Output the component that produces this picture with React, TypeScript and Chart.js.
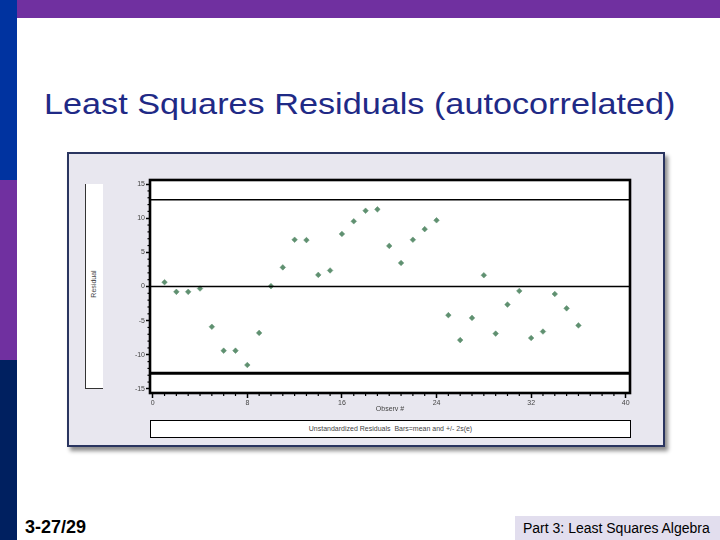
import React, { useEffect, useRef } from "react";
import { Chart, registerables } from "chart.js";

Chart.register(...registerables);

const observations = [
  1, 2, 3, 4, 5, 6, 7, 8, 9, 10, 11, 12, 13, 14, 15, 16, 17, 18,
  19, 20, 21, 22, 23, 24, 25, 26, 27, 28, 29, 30, 31, 32, 33, 34, 35, 36,
];
const residuals = [
  0.63, -0.78, -0.78, -0.3, -5.9, -9.4, -9.4, -11.5, -6.8, 0.05, 2.8, 6.85,
  6.8, 1.7, 2.35, 7.7, 9.55, 11.1, 11.3, 5.95, 3.45, 6.85, 8.4, 9.7,
  -4.2, -7.85, -4.6, 1.65, -6.9, -2.65, -0.65, -7.55, -6.6, -1.1, -3.2, -5.7,
];
const meanValue = 0;
const twoSE = 12.7;
const xTickValues = [0, 8, 16, 24, 32, 40];
const yTickValues = [-15, -10, -5, 0, 5, 10, 15];
const xMin = -0.23;
const xMax = 40.36;
const yMin = -15.6;
const yMax = 15.6;

const framePlugin = {
  id: "frame",
  beforeDraw(chart: any) {
    const { ctx, chartArea: a } = chart;
    ctx.save();
    ctx.fillStyle = "#ffffff";
    ctx.fillRect(a.left, a.top, a.right - a.left, a.bottom - a.top);
    ctx.restore();
  },
  afterDraw(chart: any) {
    const { ctx, chartArea: a, scales } = chart;
    ctx.save();
    ctx.strokeStyle = "#000";
    ctx.lineWidth = 1.2;
    for (let v = 0; v <= 40; v++) {
      if (v % 8 === 0) continue;
      const px = scales.x.getPixelForValue(v);
      ctx.beginPath();
      ctx.moveTo(px, a.bottom);
      ctx.lineTo(px, a.bottom + 3);
      ctx.stroke();
    }
    for (let v = -15; v <= 15; v++) {
      if (v % 5 === 0) continue;
      const py = scales.y.getPixelForValue(v);
      ctx.beginPath();
      ctx.moveTo(a.left - 2.5, py);
      ctx.lineTo(a.left, py);
      ctx.stroke();
    }
    ctx.lineWidth = 2.6;
    ctx.strokeRect(a.left, a.top, a.right - a.left, a.bottom - a.top);
    ctx.restore();
  },
};

function ResidualChart() {
  const ref = useRef<HTMLCanvasElement | null>(null);
  useEffect(() => {
    if (!ref.current) return;
    const tickFont = { size: 7, family: "'Liberation Sans', Arial, sans-serif" };
    const chart = new Chart(ref.current, {
      type: "scatter",
      data: {
        datasets: [
          {
            type: "line",
            data: [
              { x: xMin, y: meanValue + twoSE },
              { x: xMax, y: meanValue + twoSE },
            ],
            borderColor: "#000",
            borderWidth: 1.5,
            pointRadius: 0,
          },
          {
            type: "line",
            data: [
              { x: xMin, y: meanValue },
              { x: xMax, y: meanValue },
            ],
            borderColor: "#000",
            borderWidth: 1.5,
            pointRadius: 0,
          },
          {
            type: "line",
            data: [
              { x: xMin, y: meanValue - twoSE },
              { x: xMax, y: meanValue - twoSE },
            ],
            borderColor: "#000",
            borderWidth: 3,
            pointRadius: 0,
          },
          {
            data: observations.map((o, i) => ({ x: o, y: residuals[i] })),
            pointStyle: "rectRot",
            pointRadius: 2.8,
            backgroundColor: "#5f9070",
            borderColor: "#5f9070",
            borderWidth: 0.5,
          },
        ],
      } as any,
      options: {
        animation: false,
        responsive: false,
        maintainAspectRatio: false,
        layout: { padding: { top: 10, right: 10, left: 0, bottom: 0 } },
        plugins: { legend: { display: false }, tooltip: { enabled: false } },
        scales: {
          x: {
            type: "linear",
            min: xMin,
            max: xMax,
            afterBuildTicks: (s: any) => {
              s.ticks = xTickValues.map((v) => ({ value: v }));
            },
            afterFit: (s: any) => {
              s.height = 22;
            },
            grid: {
              drawOnChartArea: false,
              drawTicks: true,
              tickLength: 5,
              tickColor: "#000",
              tickWidth: 1.5,
            },
            border: { display: false },
            ticks: {
              font: tickFont,
              color: "#444",
              padding: 1,
              maxRotation: 0,
              autoSkip: false,
            },
            title: {
              display: true,
              text: "Observ #",
              font: tickFont,
              color: "#444",
              padding: { top: 0, bottom: 2 },
            },
          },
          y: {
            type: "linear",
            min: yMin,
            max: yMax,
            afterBuildTicks: (s: any) => {
              s.ticks = yTickValues.map((v) => ({ value: v }));
            },
            afterFit: (s: any) => {
              s.width = 40;
            },
            grid: {
              drawOnChartArea: false,
              drawTicks: true,
              tickLength: 4,
              tickColor: "#000",
              tickWidth: 1.5,
            },
            border: { display: false },
            ticks: {
              font: tickFont,
              color: "#444",
              padding: 1,
              autoSkip: false,
            },
          },
        },
      },
      plugins: [framePlugin],
    } as any);
    return () => chart.destroy();
  }, []);
  return (
    <canvas
      ref={ref}
      width={530}
      height={245}
      style={{ position: "absolute", left: 110, top: 170, width: 530, height: 245 }}
    />
  );
}

export default function App() {
  useEffect(() => {
    document.body.style.margin = "0";
  }, []);
  const sans = "'Liberation Sans', Arial, sans-serif";
  return (
    <div
      style={{
        position: "absolute",
        left: 0,
        top: 0,
        width: 720,
        height: 540,
        overflow: "hidden",
        background: "#ffffff",
        fontFamily: sans,
      }}
    >
      <div style={{ position: "absolute", left: 0, top: 0, width: 720, height: 18, background: "#7030A0" }} />
      <div style={{ position: "absolute", left: 0, top: 0, width: 17, height: 180, background: "#0033A0" }} />
      <div style={{ position: "absolute", left: 0, top: 180, width: 17, height: 180, background: "#7030A0" }} />
      <div style={{ position: "absolute", left: 0, top: 360, width: 17, height: 180, background: "#002060" }} />

      <div
        style={{
          position: "absolute",
          left: 44,
          top: 88,
          height: 32,
          lineHeight: "32px",
          fontSize: 29,
          color: "#1F2A86",
          whiteSpace: "nowrap",
          transform: "scaleX(1.18)",
          transformOrigin: "left center",
        }}
      >
        Least Squares Residuals (autocorrelated)
      </div>

      <div
        style={{
          position: "absolute",
          left: 67,
          top: 152,
          width: 594,
          height: 291,
          background: "#E8E7EF",
          border: "2px solid #2A3560",
          boxShadow: "3px 4px 4px rgba(0,0,0,0.45)",
        }}
      />
      <div
        style={{
          position: "absolute",
          left: 85,
          top: 184,
          width: 17,
          height: 204,
          background: "#fff",
          borderLeft: "1px solid #333",
          borderBottom: "1px solid #333",
        }}
      />
      <div
        style={{
          position: "absolute",
          left: 93,
          top: 284,
          transform: "translate(-50%, -50%) rotate(-90deg)",
          fontSize: 7,
          color: "#444",
          whiteSpace: "nowrap",
        }}
      >
        Residual
      </div>

      <ResidualChart />

      <div
        style={{
          position: "absolute",
          left: 150,
          top: 420,
          width: 479,
          height: 16,
          background: "#fff",
          border: "1px solid #000",
          fontSize: 7,
          lineHeight: "16px",
          color: "#444",
          textAlign: "center",
          whiteSpace: "nowrap",
        }}
      >
        Unstandardized Residuals&nbsp;&nbsp;Bars=mean and +/- 2s(e)
      </div>

      <div
        style={{
          position: "absolute",
          left: 25,
          top: 516,
          height: 22,
          lineHeight: "22px",
          fontSize: 18,
          fontWeight: "bold",
          color: "#000",
        }}
      >
        3-27/29
      </div>
      <div
        style={{
          position: "absolute",
          left: 515,
          top: 516,
          width: 205,
          height: 24,
          background: "#E2DEEE",
        }}
      />
      <div
        style={{
          position: "absolute",
          left: 523,
          top: 516,
          height: 24,
          lineHeight: "24px",
          fontSize: 14,
          color: "#000",
          whiteSpace: "nowrap",
        }}
      >
        Part 3: Least Squares Algebra
      </div>
    </div>
  );
}
